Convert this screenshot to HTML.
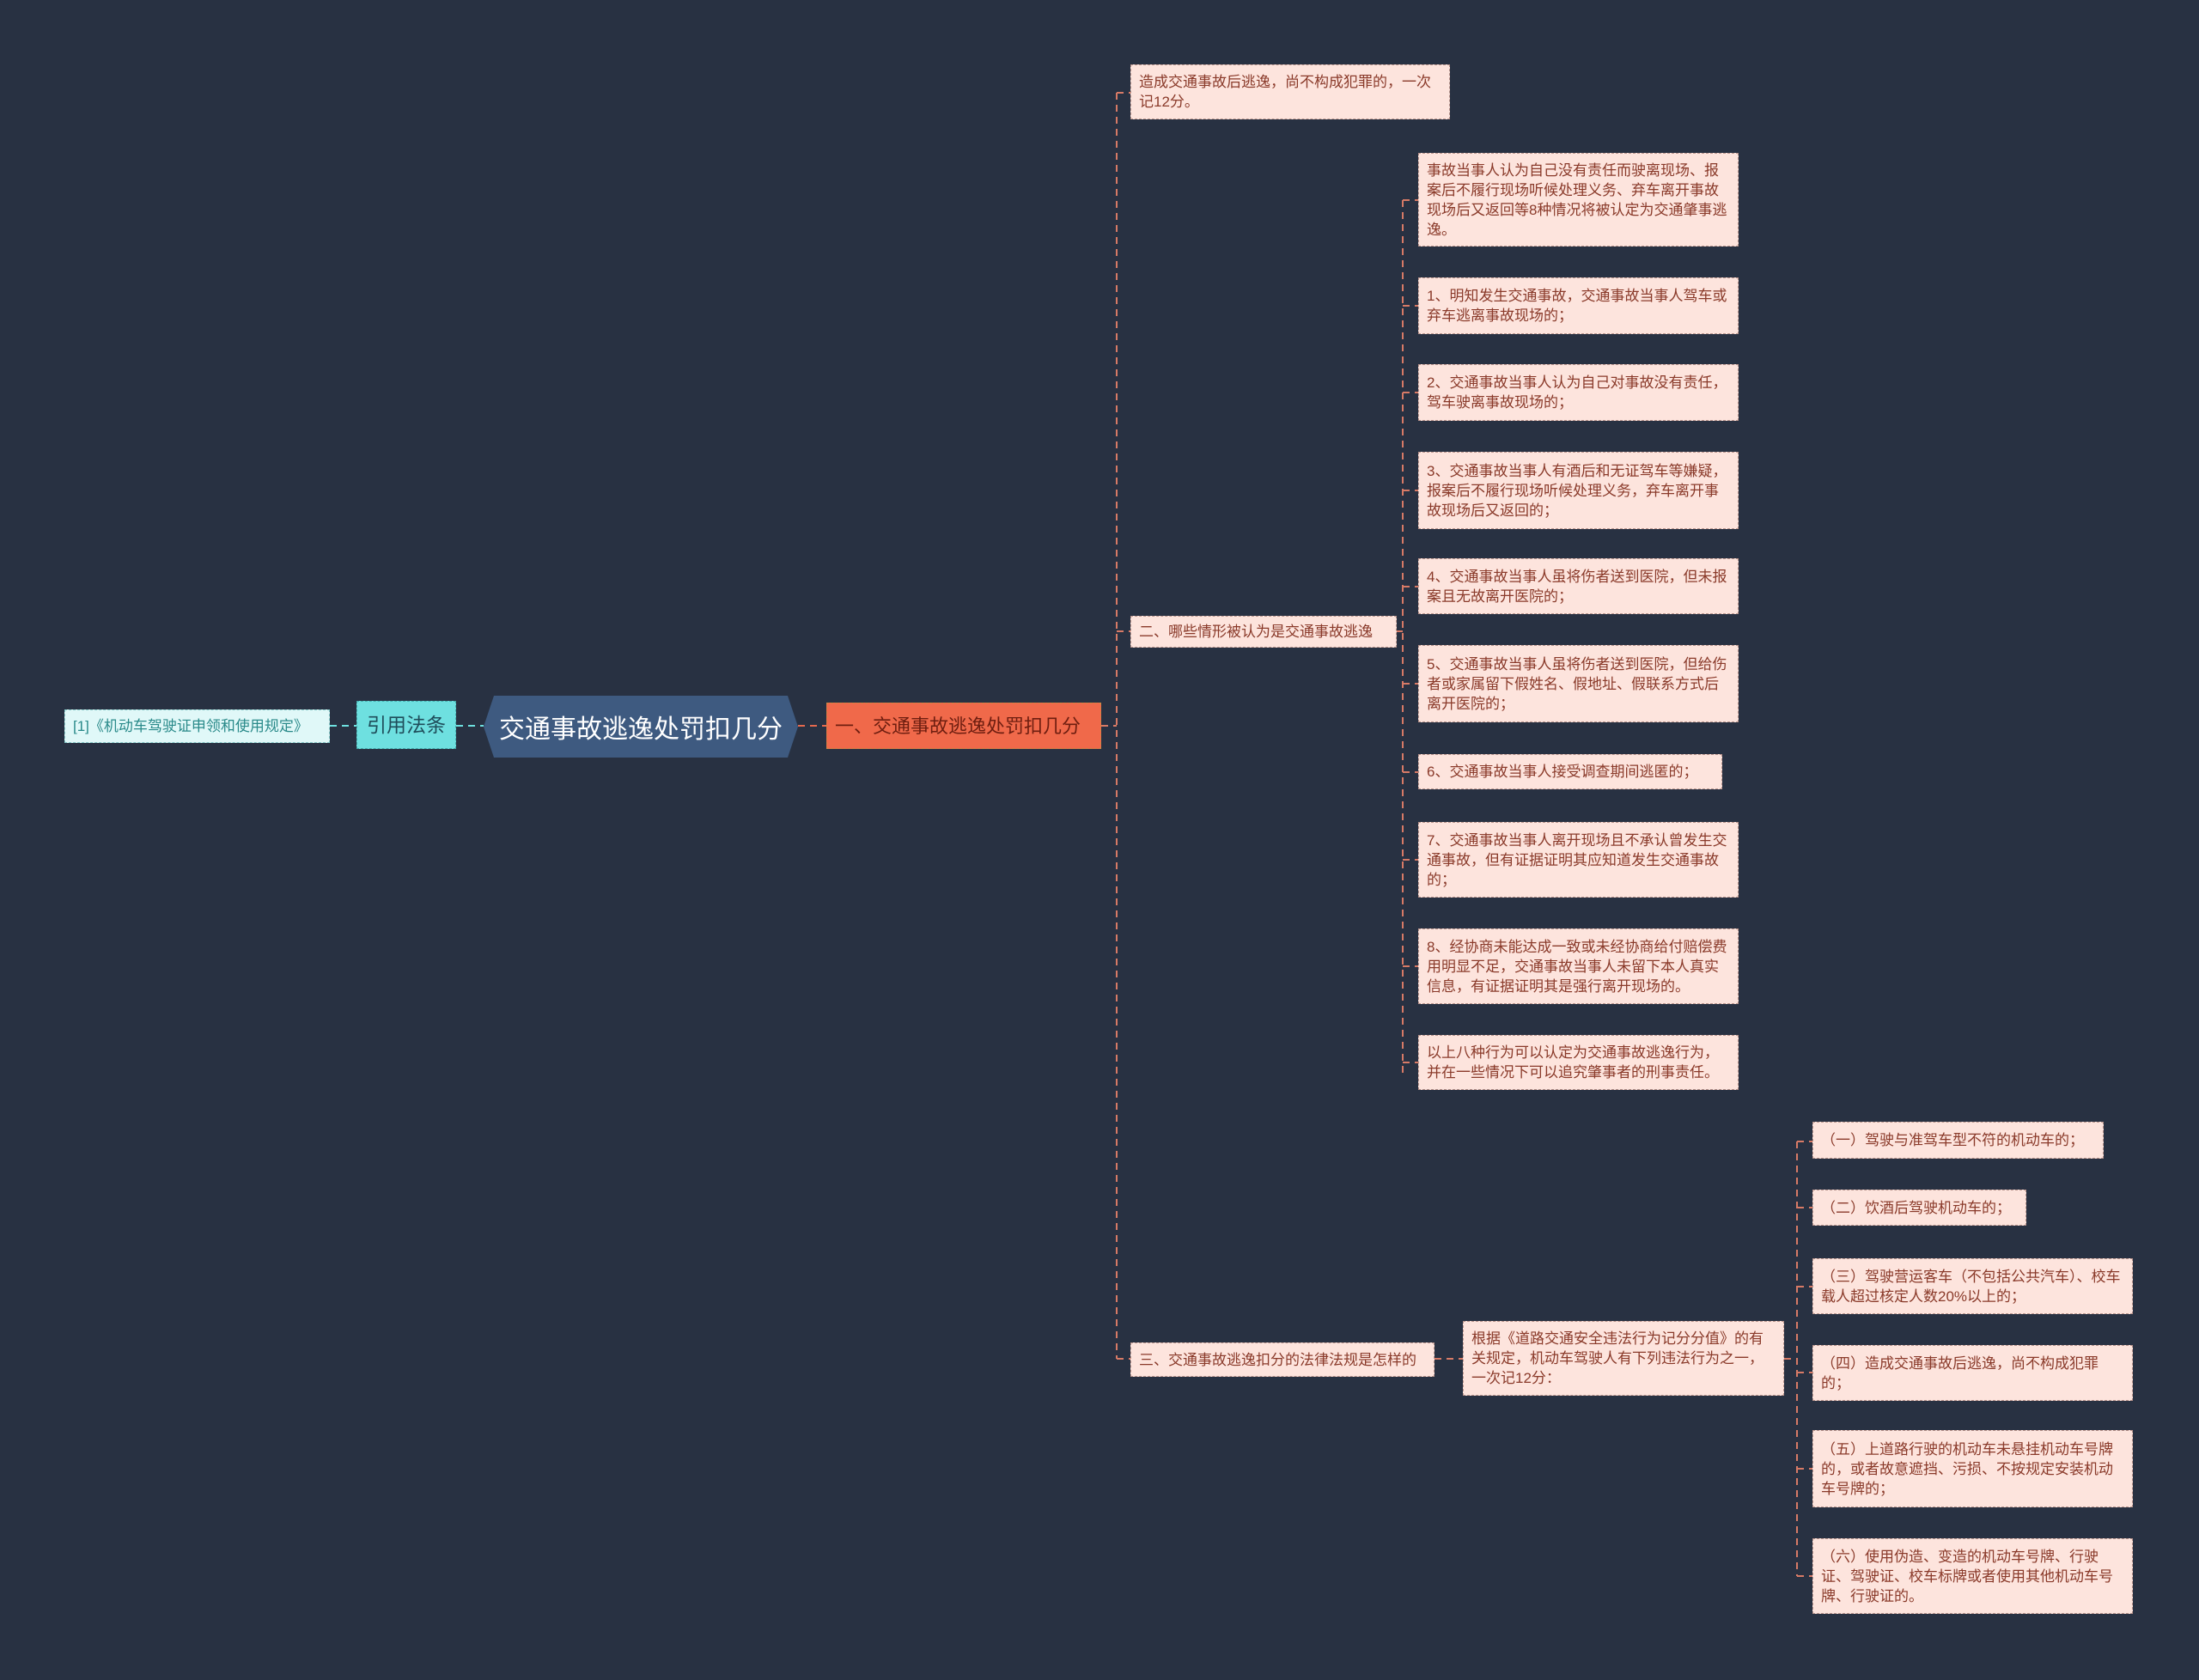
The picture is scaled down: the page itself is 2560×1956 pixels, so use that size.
<!DOCTYPE html>
<html><head><meta charset="utf-8"><style>
body{margin:0;width:2560px;height:1956px;background:#283142;position:relative;overflow:hidden;font-family:"Liberation Sans","Noto Sans CJK SC",sans-serif;}
.n{position:absolute;box-sizing:border-box;display:flex;align-items:center;padding:0 11px 0 9px;font-size:17px;line-height:23px;color:#8a3a2a;background:#fde4dd;border:1.5px dashed #b9948c;}
svg{position:absolute;left:0;top:0}
</style></head><body>
<svg width="2560" height="1956">
<g fill="none" stroke-width="2" stroke-dasharray="8,6">
<path d="M384 845H415" stroke="#6ee0e0"/>
<path d="M531 845H563" stroke="#6ee0e0"/>
<path d="M929 845H962" stroke="#e5694e"/>
<g stroke="#d77a66">
<path d="M1282 845H1300M1300 108V1582M1300 108H1316M1300 735H1316M1300 1582H1316"/>
<path d="M1626 735H1633M1633 233V1249"/>
<path d="M1633 233H1651M1633 356H1651M1633 457H1651M1633 571H1651M1633 683H1651M1633 796H1651M1633 899H1651M1633 1001H1651M1633 1125H1651M1633 1237H1651"/>
<path d="M1670 1582H1703M2077 1582H2092M2092 1329V1835"/>
<path d="M2092 1329H2110M2092 1406H2110M2092 1498H2110M2092 1598H2110M2092 1710H2110M2092 1835H2110"/>
</g></g>
<polygon points="575,810 917,810 929,846 917,882 575,882 563,846" fill="#3e5a80"/>
</svg>
<div class="n" style="left:75px;top:826px;width:309px;height:39px;background:#e0f8f8;color:#2a8a8a;border-color:#8cc;font-size:17px;white-space:nowrap">[1]《机动车驾驶证申领和使用规定》</div>
<div class="n" style="left:415px;top:816px;width:116px;height:56px;background:#6ee0e0;color:#1f4d5a;font-size:23px;border-color:#4aa;white-space:nowrap;padding:0;justify-content:center">引用法条</div>
<div style="position:absolute;left:563px;top:810px;width:366px;height:72px;display:flex;align-items:center;justify-content:center;color:#fff;font-size:30px;font-family:'Liberation Sans','Noto Sans CJK SC',sans-serif">交通事故逃逸处罚扣几分</div>
<div class="n" style="left:962px;top:818px;width:320px;height:54px;background:#f0694a;color:#6e1e10;font-size:22px;border-color:#c84;white-space:nowrap">一、交通事故逃逸处罚扣几分</div>
<div class="n" style="left:1316px;top:75px;width:372px;height:64px">造成交通事故后逃逸，尚不构成犯罪的，一次记12分。</div>
<div class="n" style="left:1316px;top:717px;width:310px;height:37px;white-space:nowrap">二、哪些情形被认为是交通事故逃逸</div>
<div class="n" style="left:1316px;top:1563px;width:354px;height:40px;white-space:nowrap">三、交通事故逃逸扣分的法律法规是怎样的</div>
<div class="n" style="left:1651px;top:178px;width:373px;height:109px">事故当事人认为自己没有责任而驶离现场、报案后不履行现场听候处理义务、弃车离开事故现场后又返回等8种情况将被认定为交通肇事逃逸。</div>
<div class="n" style="left:1651px;top:323px;width:373px;height:66px">1、明知发生交通事故，交通事故当事人驾车或弃车逃离事故现场的；</div>
<div class="n" style="left:1651px;top:424px;width:373px;height:66px">2、交通事故当事人认为自己对事故没有责任，驾车驶离事故现场的；</div>
<div class="n" style="left:1651px;top:526px;width:373px;height:90px">3、交通事故当事人有酒后和无证驾车等嫌疑，报案后不履行现场听候处理义务，弃车离开事故现场后又返回的；</div>
<div class="n" style="left:1651px;top:650px;width:373px;height:65px">4、交通事故当事人虽将伤者送到医院，但未报案且无故离开医院的；</div>
<div class="n" style="left:1651px;top:751px;width:373px;height:90px">5、交通事故当事人虽将伤者送到医院，但给伤者或家属留下假姓名、假地址、假联系方式后离开医院的；</div>
<div class="n" style="left:1651px;top:878px;width:354px;height:41px;white-space:nowrap">6、交通事故当事人接受调查期间逃匿的；</div>
<div class="n" style="left:1651px;top:957px;width:373px;height:88px">7、交通事故当事人离开现场且不承认曾发生交通事故，但有证据证明其应知道发生交通事故的；</div>
<div class="n" style="left:1651px;top:1081px;width:373px;height:88px">8、经协商未能达成一致或未经协商给付赔偿费用明显不足，交通事故当事人未留下本人真实信息，有证据证明其是强行离开现场的。</div>
<div class="n" style="left:1651px;top:1205px;width:373px;height:64px">以上八种行为可以认定为交通事故逃逸行为，并在一些情况下可以追究肇事者的刑事责任。</div>
<div class="n" style="left:1703px;top:1538px;width:374px;height:87px">根据《道路交通安全违法行为记分分值》的有关规定，机动车驾驶人有下列违法行为之一，一次记12分：</div>
<div class="n" style="left:2110px;top:1306px;width:339px;height:43px;white-space:nowrap">（一）驾驶与准驾车型不符的机动车的；</div>
<div class="n" style="left:2110px;top:1385px;width:249px;height:42px;white-space:nowrap">（二）饮酒后驾驶机动车的；</div>
<div class="n" style="left:2110px;top:1465px;width:373px;height:65px">（三）驾驶营运客车（不包括公共汽车）、校车载人超过核定人数20%以上的；</div>
<div class="n" style="left:2110px;top:1566px;width:373px;height:65px">（四）造成交通事故后逃逸，尚不构成犯罪的；</div>
<div class="n" style="left:2110px;top:1665px;width:373px;height:90px">（五）上道路行驶的机动车未悬挂机动车号牌的，或者故意遮挡、污损、不按规定安装机动车号牌的；</div>
<div class="n" style="left:2110px;top:1791px;width:373px;height:88px">（六）使用伪造、变造的机动车号牌、行驶证、驾驶证、校车标牌或者使用其他机动车号牌、行驶证的。</div>
</body></html>
